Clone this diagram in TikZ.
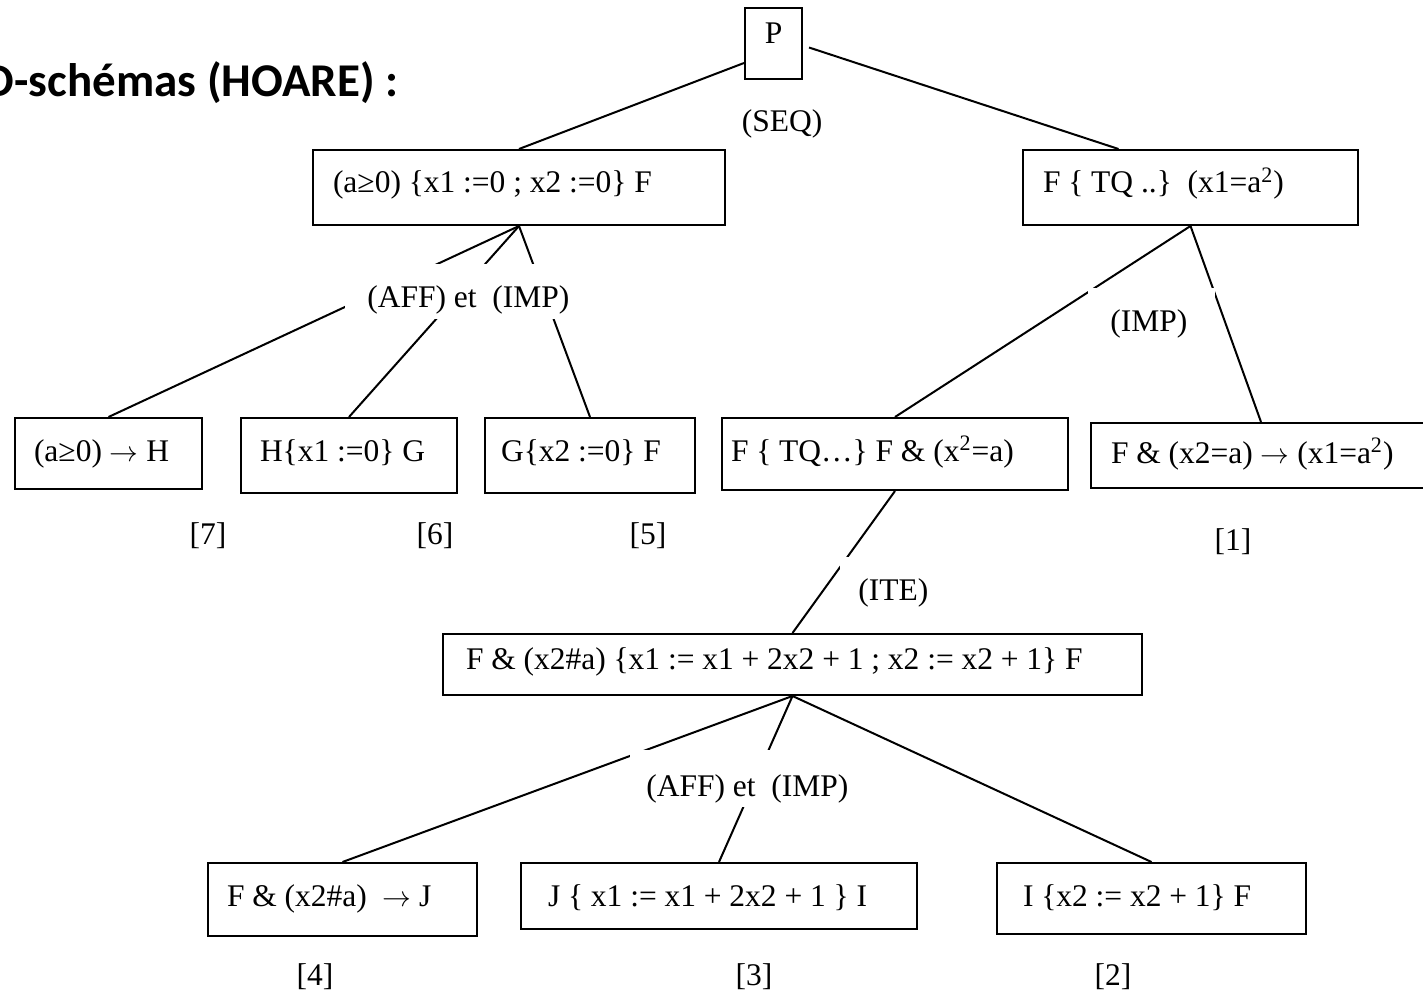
\documentclass[tikz,border=0pt]{standalone}
\usepackage{fontspec}
\setmainfont{Liberation Serif}
\newfontfamily\headfont{Carlito}
\usetikzlibrary{calc}

\begin{document}
\begin{tikzpicture}[x=0.5pt,y=-0.5pt,
  every node/.style={font=\fontsize{15.75}{19}\selectfont, execute at begin node={\spaceskip=3.9pt\relax}},
  box/.style={draw, line width=1pt, anchor=north west, inner xsep=10pt, inner ysep=0pt, align=left, text height=21.5pt},
  rulelbl/.style={fill=white, anchor=north west, inner xsep=10pt, inner ysep=0pt, align=left, text height=21.5pt, text depth=6pt},
  link/.style={line width=1pt}]
  \useasboundingbox (0,0) rectangle (1423,994);
  \clip (0,0) rectangle (1423,994);

  % title
  \node[anchor=base east, inner sep=0pt, execute at begin node={\spaceskip=0pt\relax}, font=\headfont\bfseries\fontsize{23.5}{28}\selectfont] (title) at (399,97) {D-schémas (HOARE) :};

  % root and first level
  \node[box, inner xsep=0pt, text width=28.5pt, align=center, text height=18pt, text depth=17.5pt] (P) at (744,7) {P};
  \node[box, text width=186pt, text depth=16pt] (A) at (312,149) {\mbox{(a≥0) \{x1 :=0 ; x2 :=0\} F}};
  \node[box, text width=147.5pt, text depth=16pt] (B) at (1022,149) {\mbox{F \{ TQ ..\} (x1=a\textsuperscript{2})}};

  % second level
  \node[box, inner xsep=9.5pt, text width=74.5pt, text depth=14pt] (c7) at (14,417) {\mbox{(a≥0) $\rightarrow$ H}};
  \node[box, inner xsep=9.5pt, text width=89pt, text depth=16pt] (c6) at (240,417) {\mbox{H\{x1 :=0\} G}};
  \node[box, inner xsep=8pt, text width=89pt, text depth=16pt] (c5) at (484,417) {\mbox{G\{x2 :=0\} F}};
  \node[box, inner xsep=4.5pt, text width=164pt, text depth=14.5pt] (D) at (721,417) {\mbox{F \{ TQ…\} F \& (x\textsuperscript{2}=a)}};
  \node[box, text width=150pt, text height=20pt, text depth=12.5pt] (E) at (1090,422) {\mbox{F \& (x2=a) $\rightarrow$ (x1=a\textsuperscript{2})}};

  % loop body
  \node[box, inner xsep=11.5pt, text width=326.5pt, text height=17.5pt, text depth=13pt] (F) at (442,633) {\mbox{F \& (x2\#a) \{x1 := x1 + 2x2 + 1 ; x2 := x2 + 1\} F}};
  \node[box, inner xsep=9.5pt, text width=115.5pt, text depth=15pt] (c4) at (207,862) {\mbox{F \& (x2\#a)~ $\rightarrow$ J}};
  \node[box, inner xsep=13.5pt, text width=171pt, text depth=11.5pt] (c3) at (520,862) {\mbox{J \{ x1 := x1 + 2x2 + 1 \} I}};
  \node[box, inner xsep=13pt, text width=128.5pt, text depth=14pt] (c2) at (996,862) {\mbox{I \{x2 := x2 + 1\} F}};

  % connectors
  \draw[link] ($(P.south west)+(0,-17)$) -- (A.north);
  \draw[link] ($(P.east)+(6,4)$) -- ($(B.north)+(-72,0)$);
  \foreach \c in {c7,c6,c5}
    \draw[link] (A.south) -- (\c.north);
  \foreach \c in {D,E}
    \draw[link] (B.south) -- (\c.north);
  \draw[link] (D.south) -- (F.north);
  \foreach \c in {c4,c3,c2}
    \draw[link] (F.south) -- (\c.north);

  % rule names
  \node (seq) at (782,124) {(SEQ)};
  \node[rulelbl, inner xsep=11pt, text width=105.5pt] (aff1) at (345,264) {\mbox{(AFF) et~~(IMP)}};
  \node[rulelbl, inner xsep=11pt, text width=41.5pt] (imp) at (1088,288) {(IMP)};
  \node[rulelbl, inner xsep=9pt, text width=40pt] (ite) at (840,557) {(ITE)};
  \node[rulelbl, inner xsep=8pt, text width=105pt, text height=23pt, text depth=5.5pt] (aff2) at (630,750) {\mbox{(AFF) et~~(IMP)}};

  % numbering
  \node (n7) at (208,536) {[7]};
  \node (n6) at (435,536) {[6]};
  \node (n5) at (648,536) {[5]};
  \node (n1) at (1233,542) {[1]};
  \node (n4) at (315,977) {[4]};
  \node (n3) at (754,977) {[3]};
  \node (n2) at (1113,977) {[2]};
\end{tikzpicture}
\end{document}
